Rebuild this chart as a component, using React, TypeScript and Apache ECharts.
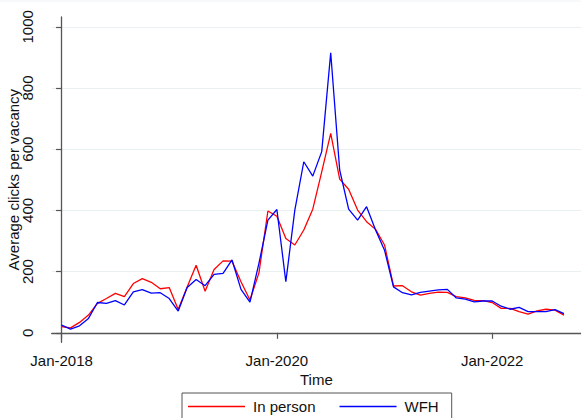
import React, { useEffect, useRef } from "react";
import * as echarts from "echarts";

// Monthly series, Jan-2018 .. Sep-2022 (57 months)
const startYear = 2018;
const inPerson = [
  20, 16, 34, 58, 96, 112, 129, 118, 161, 177, 165, 144,
  148, 76, 150, 221, 136, 207, 235, 234, 167, 107, 196, 398,
  381, 308, 287, 336, 404, 526, 652, 502, 469, 401, 363, 338,
  287, 153, 154, 134, 123, 129, 133, 132, 118, 114, 106, 105,
  99, 80, 80, 69, 61, 72, 77, 74, 58,
];
const wfh = [
  25, 12, 23, 47, 99, 96, 105, 91, 134, 141, 130, 131,
  112, 71, 148, 174, 154, 191, 194, 238, 142, 100, 227, 368,
  403, 167, 401, 559, 512, 592, 915, 532, 404, 368, 412, 336,
  270, 150, 131, 124, 132, 136, 140, 142, 114, 110, 101, 104,
  104, 87, 77, 83, 69, 69, 69, 76, 63,
];
const monthNames = ["Jan", "Feb", "Mar", "Apr", "May", "Jun", "Jul", "Aug", "Sep", "Oct", "Nov", "Dec"];
const xTicks = [0, 24, 48];
const yTicks = [0, 200, 400, 600, 800, 1000];

const monthLabel = (i: number) =>
  `${monthNames[((i % 12) + 12) % 12]}-${startYear + Math.floor(i / 12)}`;

const FONT = "'Liberation Sans', Arial, sans-serif";

export default function App() {
  const ref = useRef<HTMLDivElement>(null);

  useEffect(() => {
    if (!ref.current) return;
    const chart = echarts.init(ref.current, null, { renderer: "svg" });
    const toPairs = (arr: number[]) => arr.map((v, i) => [i, v]);
    chart.setOption({
      animation: false,
      backgroundColor: "#ffffff",
      textStyle: { fontFamily: FONT },
      grid: {
        left: 51.7,
        right: 0,
        top: 17,
        bottom: 75.7,
        containLabel: false,
        outerBoundsMode: "none",
      },
      graphic: [
        {
          type: "line",
          shape: { x1: 0, y1: 1, x2: 581, y2: 1 },
          style: { stroke: "#eef3f5", lineWidth: 1 },
          silent: true,
        },
      ],
      xAxis: {
        type: "value",
        min: -1.1,
        max: 57.9,
        name: "Time",
        nameLocation: "middle",
        nameGap: 30,
        nameMoveOverlap: false,
        nameTextStyle: { fontSize: 15, color: "#111", fontFamily: FONT },
        axisLine: { show: true, lineStyle: { color: "#555", width: 1.3 } },
        axisTick: { show: true, length: 6, customValues: xTicks, lineStyle: { color: "#555", width: 1.2 } },
        axisLabel: {
          customValues: xTicks,
          formatter: (v: number) => monthLabel(v),
          fontSize: 15,
          color: "#111",
          margin: 11,
          fontFamily: FONT,
        },
        splitLine: { show: false },
      },
      yAxis: {
        type: "value",
        min: -31,
        max: 1032,
        name: "Average clicks per vacancy",
        nameLocation: "middle",
        nameRotate: 90,
        nameGap: 31,
        nameMoveOverlap: false,
        nameTextStyle: { fontSize: 15, color: "#111", fontFamily: FONT },
        axisLine: { show: true, lineStyle: { color: "#555", width: 1.3 } },
        axisTick: { show: true, length: 5.5, customValues: yTicks, lineStyle: { color: "#555", width: 1.2 } },
        axisLabel: {
          customValues: yTicks,
          formatter: (v: number) => String(v),
          rotate: 90,
          fontSize: 15,
          color: "#111",
          margin: 17,
          fontFamily: FONT,
        },
        splitLine: { show: true, lineStyle: { color: "#e9f0f2", width: 1.2 } },
      },
      legend: {
        left: 182,
        top: 393,
        padding: [6, 13, 12, 6],
        itemGap: 24,
        itemWidth: 57,
        itemHeight: 1.5,
        icon: "rect",
        borderColor: "#555",
        borderWidth: 1,
        textStyle: { fontSize: 15, color: "#111", fontFamily: FONT, padding: [0, 0, 0, 3] },
        data: ["In person", "WFH"],
      },
      series: [
        {
          name: "In person",
          type: "line",
          data: toPairs(inPerson),
          symbol: "none",
          lineStyle: { color: "#ff0000", width: 1.3 },
          itemStyle: { color: "#ff0000" },
          z: 2,
        },
        {
          name: "WFH",
          type: "line",
          data: toPairs(wfh),
          symbol: "none",
          lineStyle: { color: "#0000ff", width: 1.3 },
          itemStyle: { color: "#0000ff" },
          z: 3,
        },
      ],
    });
    return () => chart.dispose();
  }, []);

  return <div ref={ref} style={{ width: 581, height: 418, position: "absolute", left: 0, top: 0 }} />;
}
